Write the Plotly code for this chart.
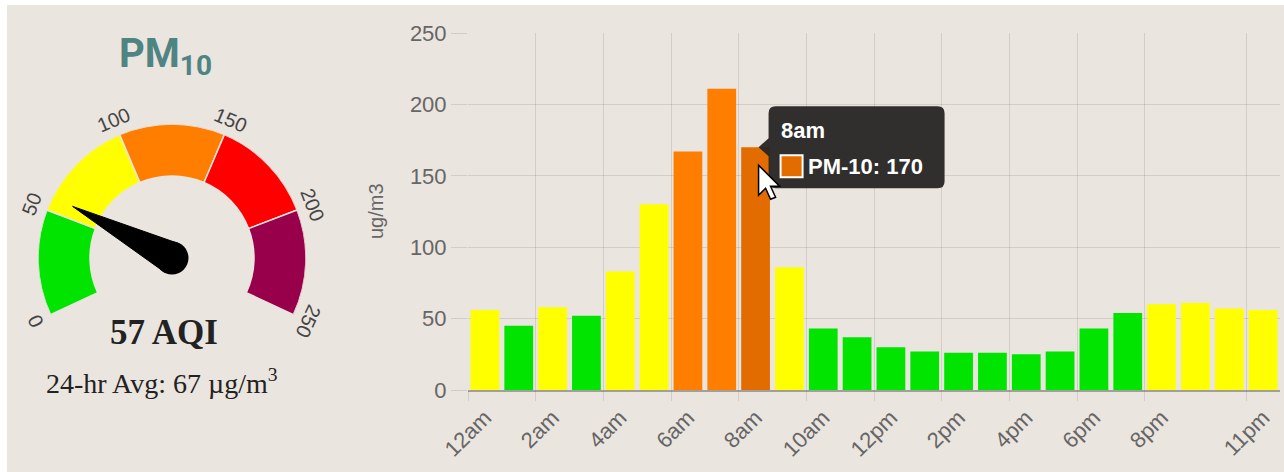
import math
import plotly.graph_objects as go

# ---------------- data ----------------
hours = ["12am", "1am", "2am", "3am", "4am", "5am", "6am", "7am", "8am", "9am", "10am", "11am",
         "12pm", "1pm", "2pm", "3pm", "4pm", "5pm", "6pm", "7pm", "8pm", "9pm", "10pm", "11pm"]
pm10 = [56, 45, 58, 52, 83, 130, 167, 211, 170, 86, 43, 37,
        30, 27, 26, 26, 25, 27, 43, 54, 60, 61, 57, 56]
shown_ticks = ["12am", "2am", "4am", "6am", "8am", "10am", "12pm", "2pm", "4pm", "6pm", "8pm", "11pm"]
y_ticks = [0, 50, 100, 150, 200, 250]
hover_hour = "8am"
series_name = "PM-10"

conc_breaks = [54, 154, 254]                     # PM10 concentration category limits
conc_colors = ["#00E400", "#FFFF00", "#FF7E00"]
hover_color = "#E36C00"

gauge_breaks = [0, 50, 100, 150, 200, 250]
gauge_colors = ["#00E400", "#FFFF00", "#FF7E00", "#FF0000", "#99004C"]
aqi_value = 57
avg_24h = 67

# ---------------- layout constants ----------------
W, H = 1284, 472
BG = "#EBE5DF"
GRID = "rgba(0,0,0,0.10)"
TXT = "#666666"

def px_x(p):
    return p / W

def px_y(p):
    return 1 - p / H

def cat_color(v):
    for lim, c in zip(conc_breaks, conc_colors):
        if v <= lim:
            return c
    return conc_colors[-1]

hover_idx = hours.index(hover_hour)
bar_colors = [hover_color if i == hover_idx else cat_color(v) for i, v in enumerate(pm10)]

fig = go.Figure()

fig.add_trace(go.Bar(x=hours, y=pm10, marker=dict(color=bar_colors, line=dict(width=0)),
                     hoverinfo="skip", showlegend=False, xaxis="x", yaxis="y"))
# invisible trace carrying the boundary-grid axis
fig.add_trace(go.Scatter(x=[-0.5], y=[0], mode="markers", marker=dict(opacity=0),
                         hoverinfo="skip", showlegend=False, xaxis="x2", yaxis="y"))

shown_idx = [hours.index(t) for t in shown_ticks]

# ---------------- gauge (polar) ----------------
GCX, GCY = 172, 258
GR, GIN = 134, 82
SPAN = 230.0
deg_per = SPAN / (gauge_breaks[-1] - gauge_breaks[0])

seg_theta = [((a + b) / 2) * deg_per for a, b in zip(gauge_breaks[:-1], gauge_breaks[1:])]
seg_width = [(b - a) * deg_per for a, b in zip(gauge_breaks[:-1], gauge_breaks[1:])]
fig.add_trace(go.Barpolar(theta=seg_theta, width=seg_width, r=[GR - GIN] * len(seg_theta),
                          base=[GIN] * len(seg_theta),
                          marker=dict(color=gauge_colors, line=dict(color=BG, width=1.5)),
                          hoverinfo="skip", showlegend=False, subplot="polar"))

t = aqi_value * deg_per
fig.add_trace(go.Scatterpolar(r=[112, 16, 16, 112], theta=[t, t + 90, t - 90, t],
                              mode="lines", fill="toself", fillcolor="black",
                              line=dict(color="black", width=1), hoverinfo="skip",
                              showlegend=False, subplot="polar"))
fig.add_trace(go.Scatterpolar(r=[0], theta=[0], mode="markers",
                              marker=dict(color="black", size=33), hoverinfo="skip",
                              showlegend=False, subplot="polar"))

annotations = []
LR = 150
for v in gauge_breaks:
    ang = math.radians(205 - v * deg_per)
    x = GCX + LR * math.cos(ang)
    y = GCY - LR * math.sin(ang)
    annotations.append(dict(x=px_x(x), y=px_y(y), xref="paper", yref="paper", text=str(v),
                            showarrow=False, textangle=(v - 125) * deg_per,
                            xanchor="center", yanchor="middle",
                            font=dict(size=20, color="#444444", family="Liberation Sans, Arial")))

annotations.append(dict(x=px_x(166), y=px_y(56), xref="paper", yref="paper",
                        text="<b>PM<sub>10</sub></b>", showarrow=False,
                        xanchor="center", yanchor="middle",
                        font=dict(size=40, color="#4E8482", family="Roboto, Lato, sans-serif")))
annotations.append(dict(x=px_x(164), y=px_y(332), xref="paper", yref="paper",
                        text=f"<b>{aqi_value} AQI</b>", showarrow=False,
                        xanchor="center", yanchor="middle",
                        font=dict(size=35, color="#222222", family="Liberation Serif, Times New Roman, serif")))
annotations.append(dict(x=px_x(162), y=px_y(381), xref="paper", yref="paper",
                        text=f"24-hr Avg: {avg_24h} µg/m<sup>3</sup>", showarrow=False,
                        xanchor="center", yanchor="middle",
                        font=dict(size=28, color="#222222", family="Liberation Serif, Times New Roman, serif")))

# y-axis title
annotations.append(dict(x=px_x(376), y=px_y(211), xref="paper", yref="paper", text="ug/m3",
                        showarrow=False, textangle=-90, xanchor="center", yanchor="middle",
                        font=dict(size=20, color=TXT, family="Liberation Sans, Arial")))

# ---------------- tooltip ----------------
hv = pm10[hover_idx]
L, R, T, B, rr = 13, 189, 41, -41, 7
tip_path = (f"M {L + rr},{T} L {R - rr},{T} Q {R},{T} {R},{T - rr} L {R},{B + rr} Q {R},{B} {R - rr},{B} "
            f"L {L + rr},{B} Q {L},{B} {L},{B + rr} L {L},-9 L 3,0 L {L},9 L {L},{T - rr} Q {L},{T} {L + rr},{T} Z")
shapes = [
    dict(type="path", xref="x", yref="y", xsizemode="pixel", ysizemode="pixel",
         xanchor=hover_idx, yanchor=hv, path=tip_path, fillcolor="rgba(38,37,36,0.95)",
         line=dict(width=0), layer="above"),
    dict(type="rect", xref="x", yref="y", xsizemode="pixel", ysizemode="pixel",
         xanchor=hover_idx, yanchor=hv, x0=25, x1=47, y0=-8, y1=-30,
         fillcolor=hover_color, line=dict(color="white", width=2), layer="above"),
]
# mouse cursor
cur = [(0, 0), (0, 30), (7, 23), (12, 34), (17, 32), (12, 21), (21, 21)]
cx0, cy0 = 3, -18
cur_path = "M " + " L ".join(f"{cx0 + dx},{cy0 - dy}" for dx, dy in cur) + " Z"
shapes.append(dict(type="path", xref="x", yref="y", xsizemode="pixel", ysizemode="pixel",
                   xanchor=hover_idx, yanchor=hv, path=cur_path, fillcolor="white",
                   line=dict(color="black", width=1.5), layer="above"))
# white frame edges
shapes.append(dict(type="rect", xref="paper", yref="paper", x0=0, x1=px_x(7), y0=0, y1=1,
                   fillcolor="white", line=dict(width=0), layer="above"))
shapes.append(dict(type="rect", xref="paper", yref="paper", x0=0, x1=1, y0=px_y(5), y1=1,
                   fillcolor="white", line=dict(width=0), layer="above"))

annotations.append(dict(x=hover_idx, y=hv, xref="x", yref="y", text=f"<b>{hover_hour}</b>",
                        showarrow=False, xanchor="left", yanchor="middle", xshift=23, yshift=17,
                        font=dict(size=22, color="white", family="Liberation Sans, Arial")))
annotations.append(dict(x=hover_idx, y=hv, xref="x", yref="y", text=f"<b>{series_name}: {hv}</b>",
                        showarrow=False, xanchor="left", yanchor="middle", xshift=50, yshift=-19,
                        font=dict(size=22, color="white", family="Liberation Sans, Arial")))

x_dom = [px_x(468), px_x(1280)]
fig.update_layout(
    width=W, height=H,
    margin=dict(l=0, r=0, t=0, b=0, pad=0, autoexpand=False),
    paper_bgcolor=BG, plot_bgcolor=BG,
    font=dict(family="Liberation Sans, Arial", color=TXT),
    bargap=0.15,
    hovermode=False,
    showlegend=False,
    xaxis=dict(domain=x_dom, type="category", categoryorder="array", categoryarray=hours,
               range=[-0.5, len(hours) - 0.5], tickmode="array", tickvals=shown_ticks,
               ticktext=shown_ticks, tickangle=-45, showgrid=False, zeroline=False,
               ticks="", ticklabelstandoff=4,
               showline=True, linecolor="#A29E9A", linewidth=2, automargin=False,
               tickfont=dict(size=22, color=TXT), anchor="y"),
    xaxis2=dict(overlaying="x", anchor="y", range=[-0.5, len(hours) - 0.5],
                tickmode="array", tickvals=[i - 0.5 for i in shown_idx],
                showgrid=True, gridcolor=GRID, gridwidth=1, zeroline=False, automargin=False,
                ticks="outside", ticklen=10, tickcolor=GRID, showticklabels=False),
    yaxis=dict(domain=[px_y(390), px_y(33)], range=[0, 250], tickmode="array", tickvals=y_ticks,
               showgrid=True, gridcolor=GRID, zeroline=False, ticks="outside", ticklen=16,
               tickcolor=GRID, tickfont=dict(size=22, color=TXT), showline=False, automargin=False),
    polar=dict(domain=dict(x=[px_x(GCX - GR), px_x(GCX + GR)], y=[px_y(GCY + GR), px_y(GCY - GR)]),
               bgcolor="rgba(0,0,0,0)",
               radialaxis=dict(range=[0, GR], visible=False),
               angularaxis=dict(visible=False, rotation=205, direction="clockwise", thetaunit="degrees")),
    annotations=annotations,
    shapes=shapes,
)

fig.write_html("out.html", config={"displayModeBar": False},
               post_script="document.body.style.margin='0';")
